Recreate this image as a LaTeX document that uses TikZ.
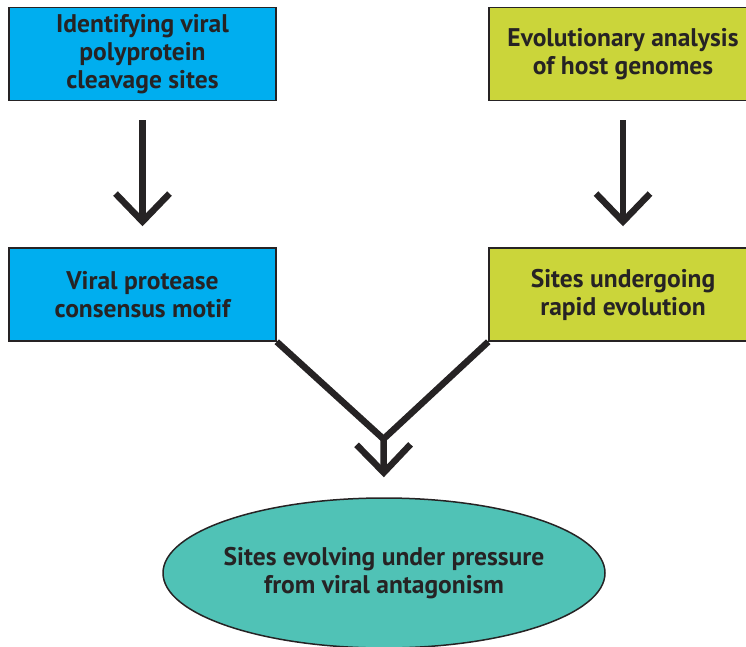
\documentclass[tikz,border=0pt]{standalone}
\usepackage{fontspec}
\setmainfont{PT Sans}
\usetikzlibrary{arrows.meta,shapes.geometric}
\definecolor{viralblue}{HTML}{00AEEF}
\definecolor{hostgreen}{HTML}{CBD53A}
\definecolor{sitesteal}{HTML}{50C2B6}
\definecolor{inkgray}{HTML}{262324}
\tikzset{
    every node/.style={
        font=\fontsize{25.5}{28}\selectfont\bfseries,
        text=inkgray
    },
    stage/.style={
        shape=rectangle,
        draw=inkgray,
        line width=1.5pt,
        minimum height=93pt,
        text centered
    },
    outcome/.style={
        shape=ellipse,
        draw=inkgray,
        line width=1.5pt,
        fill=sitesteal,
        minimum width=442pt,
        minimum height=150pt,
        inner xsep=-20pt,
        inner ysep=0pt,
        align=center
    },
    flow/.style={
        draw=inkgray,
        line width=6.5pt,
        -{Straight Barb[length=28pt,width=54pt]}
    }
}

\begin{document}
\begin{tikzpicture}[x=1pt,y=-1pt]
	\useasboundingbox (0,0) rectangle (746,647);
	\clip (0,0) rectangle (746,647);

	\node (ident) at (142.5,54) [stage, fill=viralblue, minimum width=267pt, align=center] {Identifying viral\\polyprotein\\cleavage sites};
	\node (evol) at (623,54) [stage, fill=hostgreen, minimum width=268pt, align=center] {Evolutionary analysis\\of host genomes};

	\node (motif) at (142.5,294.5) [stage, fill=viralblue, minimum width=267pt, align=center] {Viral protease\\consensus motif};
	\node (rapid) at (623,294.5) [stage, fill=hostgreen, minimum width=268pt, align=center] {Sites undergoing\\rapid evolution};

	\node (press) at (384,573) [outcome] {Sites evolving under pressure\\from viral antagonism};

	\coordinate (join) at (383.5,439);

	\draw [flow, shorten <=19pt, shorten >=21pt] (ident) -- (motif);
	\draw [flow, shorten <=19pt, shorten >=21pt] (evol) -- (rapid);
	\draw [draw=inkgray, line width=6.5pt] (motif.south east) -- (join);
	\draw [draw=inkgray, line width=6.5pt] (rapid.south west) -- (join);
	\draw [flow, shorten >=20pt] (join) -- (press.north);
\end{tikzpicture}
\end{document}
